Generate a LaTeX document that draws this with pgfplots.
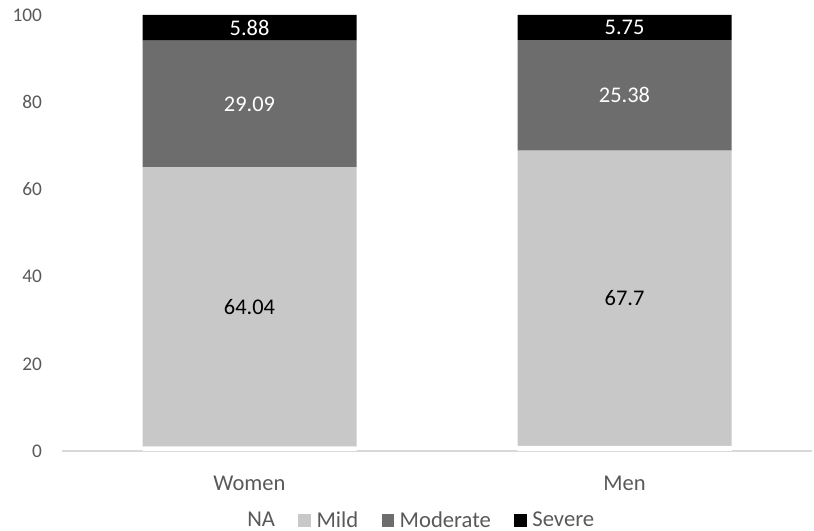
\documentclass[border=0pt]{standalone}
\usepackage{pgfplots}
\pgfplotsset{compat=1.18}
\usepackage{pgfplotstable}
\usepackage{fontspec}
\setmainfont{Carlito}
\definecolor{mild}{HTML}{C8C8C8}
\definecolor{moderate}{HTML}{6D6D6D}
\definecolor{txt}{HTML}{595959}
\definecolor{axisline}{HTML}{D9D9D9}

\pgfplotstableread{
x NA Mild Moderate Severe
0 0.99 64.04 29.09 5.88
1 1.17 67.7 25.38 5.75
}\data

\begin{document}
\begin{tikzpicture}
\useasboundingbox (0,0) rectangle (610.5pt,398.25pt);
\begin{axis}[
  at={(46.5pt,60pt)}, anchor=south west,
  scale only axis, width=562.5pt, height=327pt,
  ybar stacked, bar width=160.5pt,
  xmin=-0.5, xmax=1.5, ymin=0, ymax=100,
  xtick={0,1}, xticklabels={Women,Men},
  ytick={0,20,40,60,80,100},
  axis lines*=left,
  y axis line style={draw=none},
  x axis line style={draw=axisline, line width=0.9pt},
  major tick length=0pt,
  /pgf/number format/assume math mode=true,
  yticklabel style={font=\fontsize{14.5}{17}\selectfont, text=txt, anchor=east, inner sep=0pt, xshift=-14.8pt},
  xticklabel style={font=\fontsize{16.9}{20}\selectfont, text=txt, anchor=base, inner sep=0pt, yshift=-29.5pt},
  legend style={at={(0.468,-0.1586)}, anchor=center, draw=none, fill=none,
    legend columns=-1, font=\fontsize{17}{20}\selectfont, text=txt,
    /tikz/every even column/.append style={column sep=15.5pt},
    /tikz/every odd column/.append style={column sep=2pt},
    inner sep=0pt},
  legend image code/.code={\fill[#1] (0pt,-4.8pt) rectangle (9.6pt,4.8pt);},
  every node near coord/.append style={anchor=center, font=\fontsize{16.8}{20}\selectfont},
]
\addplot[fill=white, draw=none] table[x=x,y=NA]{\data};
\addlegendentry{NA}
\addplot[fill=mild, draw=none, nodes near coords,
  every node near coord/.append style={text=black}] table[x=x,y=Mild]{\data};
\addlegendentry{Mild}
\addplot[fill=moderate, draw=none, nodes near coords,
  every node near coord/.append style={text=white}] table[x=x,y=Moderate]{\data};
\addlegendentry{Moderate}
\addplot[fill=black, draw=none, nodes near coords,
  every node near coord/.append style={text=white}] table[x=x,y=Severe]{\data};
\addlegendentry{Severe}
\end{axis}
\end{tikzpicture}
\end{document}
